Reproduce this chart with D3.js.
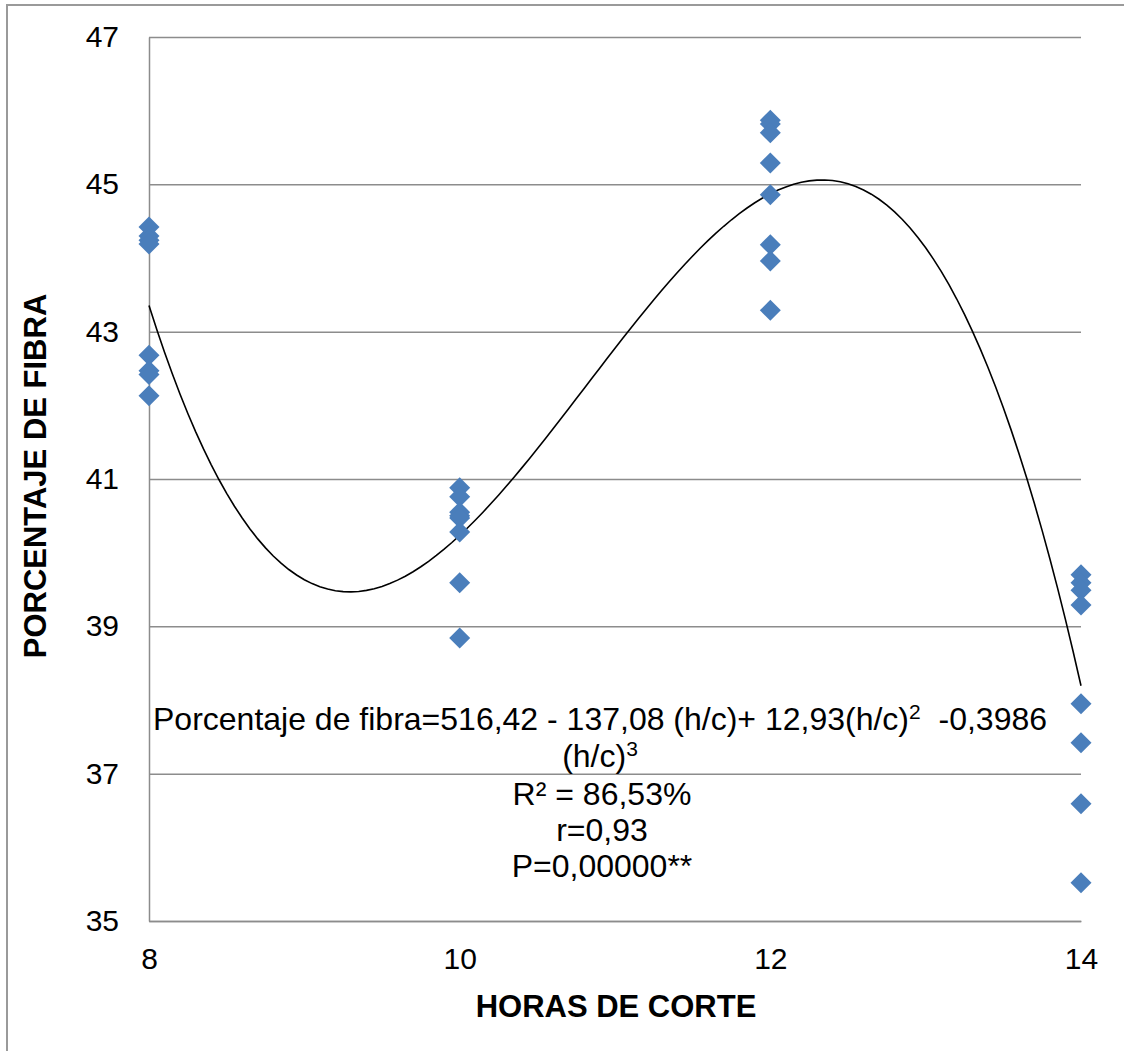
<!DOCTYPE html>
<html>
<head>
<meta charset="utf-8">
<script src="https://cdn.jsdelivr.net/npm/d3@7"></script>
<style>
  body { margin: 0; background: #fff; }
  svg { display: block; font-family: "Liberation Sans", Arial, sans-serif; }
</style>
</head>
<body>
<svg></svg>
<script>
const horas = [8, 10, 12, 14];
const fibra8  = [44.42, 44.30, 44.24, 44.19, 42.68, 42.47, 42.42, 42.13];
const fibra10 = [40.88, 40.76, 40.55, 40.50, 40.47, 40.28, 39.59, 38.84];
const fibra12 = [45.87, 45.82, 45.70, 45.29, 44.86, 44.18, 43.96, 43.29];
const fibra14 = [39.70, 39.59, 39.49, 39.29, 37.95, 37.42, 36.59, 35.52];
const yTicks = [35, 37, 39, 41, 43, 45, 47];
const xTicks = [8, 10, 12, 14];
const eqLines = ["R\u00b2 = 86,53%", "r=0,93", "P=0,00000**"];

const width = 1124, height = 1051;
const margin = { top: 37, left: 149, bottom: 130, right: 43 };

const points = [];
[fibra8, fibra10, fibra12, fibra14].forEach((arr, i) => {
  arr.forEach(v => points.push([horas[i], v]));
});

const svg = d3.select("svg").attr("width", width).attr("height", height);

// outer chart frame (runs off the page on right/bottom)
svg.append("rect")
  .attr("x", 7).attr("y", 5)
  .attr("width", width + 20).attr("height", height + 20)
  .attr("fill", "none").attr("stroke", "#9a9a9a").attr("stroke-width", 2);

const x = d3.scaleLinear().domain([8, 14]).range([margin.left, width - margin.right]);
const y = d3.scaleLinear().domain([35, 47]).range([height - margin.bottom, margin.top]);

// gridlines
svg.append("g")
  .attr("transform", `translate(${margin.left},0)`)
  .call(d3.axisLeft(y).tickValues(yTicks).tickSize(-(x(14) - x(8))).tickFormat(""))
  .call(g => g.select(".domain").remove())
  .call(g => g.selectAll("line").attr("stroke", "#8c8c8c").attr("stroke-width", 1.5));

// y axis
svg.append("g")
  .attr("transform", `translate(${margin.left},0)`)
  .call(d3.axisLeft(y).tickValues(yTicks).tickSize(0).tickPadding(30))
  .call(g => g.select(".domain").attr("stroke", "#8c8c8c").attr("stroke-width", 1.5))
  .call(g => g.selectAll("text").attr("font-size", 30).attr("fill", "#000")
    .attr("font-family", "Liberation Sans, Arial, sans-serif"));

// x axis
svg.append("g")
  .attr("transform", `translate(0,${y(35)})`)
  .call(d3.axisBottom(x).tickValues(xTicks).tickFormat(d3.format("d")).tickSize(0).tickPadding(27))
  .call(g => g.select(".domain").attr("stroke", "#8c8c8c").attr("stroke-width", 1.5))
  .call(g => g.selectAll("text").attr("font-size", 30).attr("fill", "#000")
    .attr("font-family", "Liberation Sans, Arial, sans-serif"));

// cubic least squares trendline (x centred for stability)
function polyfit(pts, deg) {
  const n = deg + 1;
  const A = Array.from({ length: n }, () => new Array(n + 1).fill(0));
  pts.forEach(([px, py]) => {
    const t = px - 11;
    for (let r = 0; r < n; r++) {
      for (let c = 0; c < n; c++) A[r][c] += Math.pow(t, r + c);
      A[r][n] += py * Math.pow(t, r);
    }
  });
  for (let i = 0; i < n; i++) {
    let p = i;
    for (let k = i + 1; k < n; k++) if (Math.abs(A[k][i]) > Math.abs(A[p][i])) p = k;
    const tmp = A[i]; A[i] = A[p]; A[p] = tmp;
    for (let k = 0; k < n; k++) {
      if (k === i) continue;
      const f = A[k][i] / A[i][i];
      for (let c = i; c <= n; c++) A[k][c] -= f * A[i][c];
    }
  }
  return A.map((row, i) => row[n] / row[i]);
}
const coef = polyfit(points, 3);
const fit = t => coef.reduce((s, c, i) => s + c * Math.pow(t - 11, i), 0);
const curve = d3.range(8, 14.0001, 0.05).map(t => [t, fit(t)]);

svg.append("path")
  .datum(curve)
  .attr("fill", "none")
  .attr("stroke", "#000")
  .attr("stroke-width", 1.6)
  .attr("d", d3.line().x(d => x(d[0])).y(d => y(d[1])));

// markers
svg.append("g").selectAll("path")
  .data(points)
  .enter()
  .append("path")
  .attr("transform", d => `translate(${x(d[0])},${y(d[1])})`)
  .attr("d", "M0,-10.5L10.5,0L0,10.5L-10.5,0Z")
  .attr("fill", "#4a7ebb");

// equation annotation
const note = svg.append("g").attr("font-size", 32).attr("fill", "#000").attr("text-anchor", "middle");
const l1 = note.append("text").attr("x", 600).attr("y", 730);
l1.append("tspan").text("Porcentaje de fibra=516,42 - 137,08 (h/c)+ 12,93(h/c)");
l1.append("tspan").attr("font-size", 21).attr("dy", -11).text("2");
l1.append("tspan").attr("dy", 11).text("\u00a0 -0,3986");
const l2 = note.append("text").attr("x", 600).attr("y", 767);
l2.append("tspan").text("(h/c)");
l2.append("tspan").attr("font-size", 21).attr("dy", -11).text("3");
note.selectAll(".ln")
  .data(eqLines)
  .enter()
  .append("text")
  .attr("class", "ln")
  .attr("x", 602)
  .attr("y", (d, i) => 805 + i * 36)
  .text(d => d);

// axis titles
svg.append("text")
  .attr("x", 616).attr("y", 1017)
  .attr("text-anchor", "middle")
  .attr("font-size", 31).attr("font-weight", "bold")
  .text("HORAS DE CORTE");

svg.append("text")
  .attr("transform", "rotate(-90)")
  .attr("x", -476).attr("y", 46)
  .attr("text-anchor", "middle")
  .attr("font-size", 31).attr("font-weight", "bold")
  .text("PORCENTAJE DE FIBRA");
</script>
</body>
</html>
